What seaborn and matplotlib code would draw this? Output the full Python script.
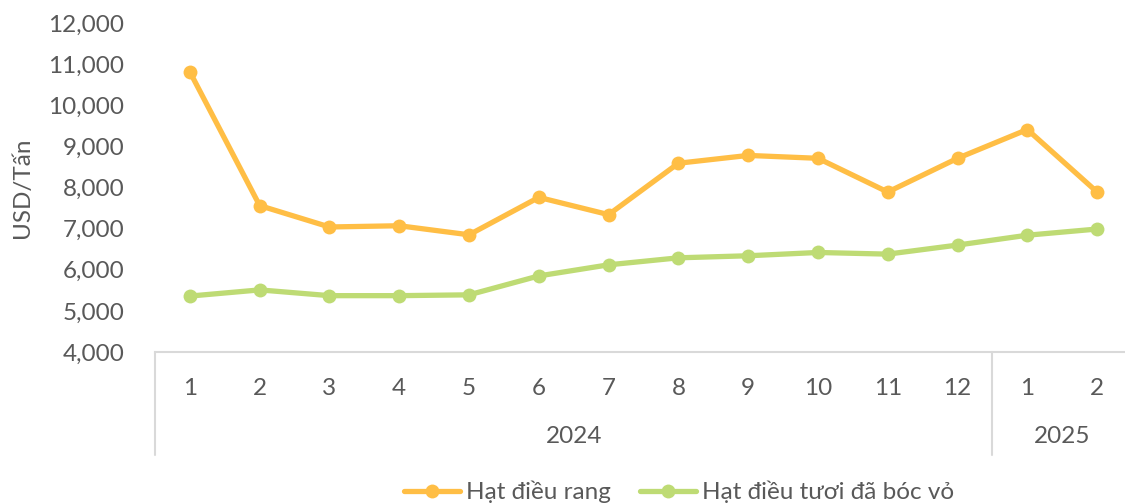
import numpy as np
import pandas as pd
import seaborn as sns
import matplotlib.pyplot as plt
import matplotlib.transforms as mtransforms

months = ["1", "2", "3", "4", "5", "6", "7", "8", "9", "10", "11", "12", "1", "2"]
years = ["2024", "2025"]
year_sizes = [12, 2]
rang = [10810, 7560, 7040, 7070, 6850, 7760, 7340, 8590, 8780, 8710, 7890, 8710, 9410, 7890]
tuoi = [5360, 5510, 5370, 5370, 5390, 5850, 6120, 6290, 6340, 6420, 6380, 6600, 6840, 6990]
series_names = ["Hạt điều rang", "Hạt điều tươi đã bóc vỏ"]
colors = ["#FFBE45", "#BEDB74"]

sns.set_style("white")
plt.rcParams['font.family'] = ['Lato', 'DejaVu Sans']
text_color = "#595959"
fs = 17.5

idx = np.arange(len(months))
df = pd.concat([
    pd.DataFrame({"pos": idx, "value": rang, "series": series_names[0]}),
    pd.DataFrame({"pos": idx, "value": tuoi, "series": series_names[1]}),
])

fig = plt.figure(figsize=(11.25, 5.03), dpi=100)
ax = fig.add_axes([155 / 1125, 1 - 352 / 503, 977 / 1125, 329 / 503])

sns.lineplot(ax=ax, data=df, x="pos", y="value", hue="series", palette=colors,
             marker="o", markersize=10, markeredgewidth=0, linewidth=3.8, legend=False)

ax.set_xlim(-0.5, len(months) - 0.5)
ax.set_ylim(4000, 12000)
ax.set_yticks(range(4000, 12001, 1000))
ax.set_yticklabels([f"{v:,}" for v in range(4000, 12001, 1000)])
ax.tick_params(axis="y", length=0, pad=22, labelsize=fs, labelcolor=text_color)
ax.set_xticks([])
ax.set_xlabel("")
ax.set_ylabel("USD/Tấn", fontsize=fs, color=text_color)
ax.yaxis.set_label_coords(-122 / 977, 0.5)

for side in ["left", "right", "top"]:
    ax.spines[side].set_visible(False)
ax.spines["bottom"].set_color("#D9D9D9")
ax.spines["bottom"].set_linewidth(1.5)

trans = mtransforms.blended_transform_factory(ax.transData, ax.transAxes)
for i, m in enumerate(months):
    ax.annotate(m, xy=(i, 0), xycoords=trans, xytext=(0, -26), textcoords="offset points",
                ha="center", va="center", fontsize=fs, color=text_color)

start = 0
bounds = [-0.5]
for y, n in zip(years, year_sizes):
    center = start + (n - 1) / 2
    ax.annotate(y, xy=(center, 0), xycoords=trans, xytext=(0, -61), textcoords="offset points",
                ha="center", va="center", fontsize=fs, color=text_color)
    start += n
    bounds.append(start - 0.5)

for b in bounds:
    ax.plot([b, b], [0, -103 / 329], transform=trans, color="#D9D9D9", linewidth=1.5, clip_on=False)

handles = [plt.Line2D([], [], color=c, marker="o", markersize=10, markeredgewidth=0, linewidth=3.8)
           for c in colors]
fig.legend(handles, series_names, loc="center", bbox_to_anchor=(0.604, 0.022), ncol=2, frameon=False,
           fontsize=fs, labelcolor=text_color, handlelength=2.3, handletextpad=0.25, columnspacing=1.2,
           borderpad=0)

fig.savefig("out.png", dpi=100)
